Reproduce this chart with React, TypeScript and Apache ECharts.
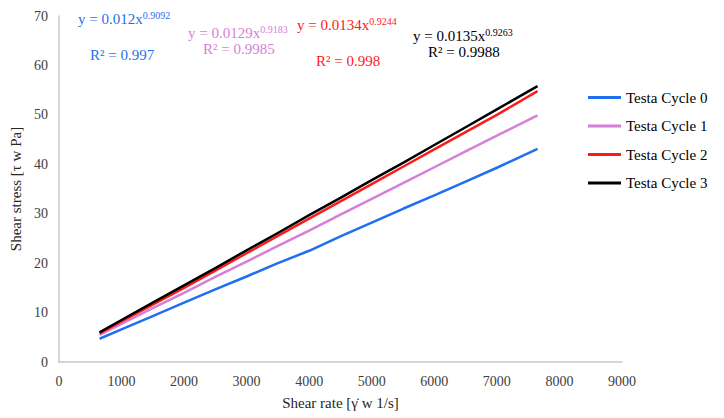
import React, { useEffect, useRef } from "react";
import * as echarts from "echarts";

// Shear rate [1/s] sampled along each flow curve
const shearRate = [650, 1000, 1500, 2000, 2500, 3000, 3500, 4000, 4500, 5000, 5500, 6000, 6500, 7000, 7650];

// Shear stress [Pa] per cycle
const cycle0 = [4.7, 6.6, 9.3, 12.0, 14.7, 17.3, 20.0, 22.5, 25.4, 28.2, 31.0, 33.7, 36.5, 39.3, 43.1];
const cycle1 = [5.5, 7.7, 10.9, 14.0, 17.2, 20.3, 23.5, 26.6, 29.8, 33.0, 36.2, 39.4, 42.6, 45.8, 49.9];
const cycle2 = [5.8, 8.2, 11.6, 15.0, 18.5, 22.0, 25.5, 29.0, 32.5, 36.0, 39.5, 43.0, 46.5, 50.0, 54.8];
const cycle3 = [6.0, 8.5, 12.0, 15.5, 19.0, 22.6, 26.1, 29.7, 33.2, 36.8, 40.3, 43.9, 47.5, 51.1, 55.8];

const seriesNames = ["Testa Cycle 0", "Testa Cycle 1", "Testa Cycle 2", "Testa Cycle 3"];
const seriesColors = ["#1f6fef", "#d67fd6", "#ff1a1a", "#000000"];

// Power-law trendline labels: coefficient part, exponent, R²
const fitCoef = ["y = 0.012x", "y = 0.0129x", "y = 0.0134x", "y = 0.0135x"];
const fitExp = ["0.9092", "0.9183", "0.9244", "0.9263"];
const fitR2 = ["R² = 0.997", "R² = 0.9985", "R² = 0.998", "R² = 0.9988"];

const FONT = "Liberation Serif, Times New Roman, serif";

export default function App() {
  const ref = useRef<HTMLDivElement>(null);

  useEffect(() => {
    if (!ref.current) return;
    const chart = echarts.init(ref.current, undefined, { renderer: "svg" });
    const all = [cycle0, cycle1, cycle2, cycle3];

    // label anchors: [left, vertical centre]
    const eqPos = [
      [78, 18],
      [188, 32],
      [297, 24],
      [413, 35],
    ];
    const r2Pos = [
      [90, 54],
      [203, 48],
      [316, 60],
      [428, 51],
    ];

    const graphics: any[] = [];
    for (let i = 0; i < 4; i++) {
      graphics.push({
        type: "text",
        left: eqPos[i][0],
        top: eqPos[i][1] - 8,
        style: {
          text: `{m|${fitCoef[i]}}{s|${fitExp[i]}}`,
          fill: seriesColors[i],
          rich: {
            m: { fontFamily: FONT, fontSize: 15, fill: seriesColors[i], lineHeight: 16, verticalAlign: "bottom" },
            s: { fontFamily: FONT, fontSize: 10, fill: seriesColors[i], lineHeight: 9, verticalAlign: "top" },
          },
        },
        z: 10,
      });
      graphics.push({
        type: "text",
        left: r2Pos[i][0],
        top: r2Pos[i][1] - 7,
        style: {
          text: fitR2[i],
          fill: seriesColors[i],
          fontFamily: FONT,
          fontSize: 15,
          lineHeight: 14,
        },
        z: 10,
      });
    }

    chart.setOption({
      animation: false,
      backgroundColor: "#ffffff",
      grid: { left: 58, right: 102, top: 16, bottom: 56, containLabel: false },
      legend: {
        orient: "vertical",
        left: 583,
        top: 85,
        itemWidth: 33,
        itemHeight: 3,
        itemGap: 13.5,
        icon: "rect",
        textStyle: { fontFamily: FONT, fontSize: 15, color: "#000" },
        data: seriesNames,
      },
      xAxis: {
        type: "value",
        min: 0,
        max: 9000,
        interval: 1000,
        name: "Shear rate [γ̇ w 1/s]",
        nameLocation: "middle",
        nameGap: 33,
        nameTextStyle: { fontFamily: FONT, fontSize: 15, color: "#262626" },
        axisLine: { show: true, lineStyle: { color: "#c8c8c8", width: 1.5 } },
        axisTick: { show: false },
        splitLine: { show: false },
        axisLabel: {
          fontFamily: FONT,
          fontSize: 14,
          color: "#404040",
          margin: 12,
          formatter: (v: number) => String(v),
        },
      },
      yAxis: {
        type: "value",
        min: 0,
        max: 70,
        interval: 10,
        name: "Shear stress [τ w Pa]",
        nameLocation: "middle",
        nameGap: 34,
        nameTextStyle: { fontFamily: FONT, fontSize: 15, color: "#262626" },
        axisLine: { show: true, lineStyle: { color: "#c8c8c8", width: 1.5 } },
        axisTick: { show: false },
        splitLine: { show: false },
        axisLabel: {
          fontFamily: FONT,
          fontSize: 14,
          color: "#404040",
          margin: 11,
          formatter: (v: number) => String(v),
        },
      },
      series: all.map((vals, i) => ({
        name: seriesNames[i],
        type: "line",
        data: shearRate.map((x, k) => [x, vals[k]]),
        showSymbol: false,
        symbol: "none",
        lineStyle: { color: seriesColors[i], width: 2.5 },
        itemStyle: { color: seriesColors[i] },
        z: 2 + i,
      })),
      graphic: graphics,
    });

    return () => chart.dispose();
  }, []);

  return <div ref={ref} style={{ width: 724, height: 418, position: "absolute", left: 0, top: 0 }} />;
}
